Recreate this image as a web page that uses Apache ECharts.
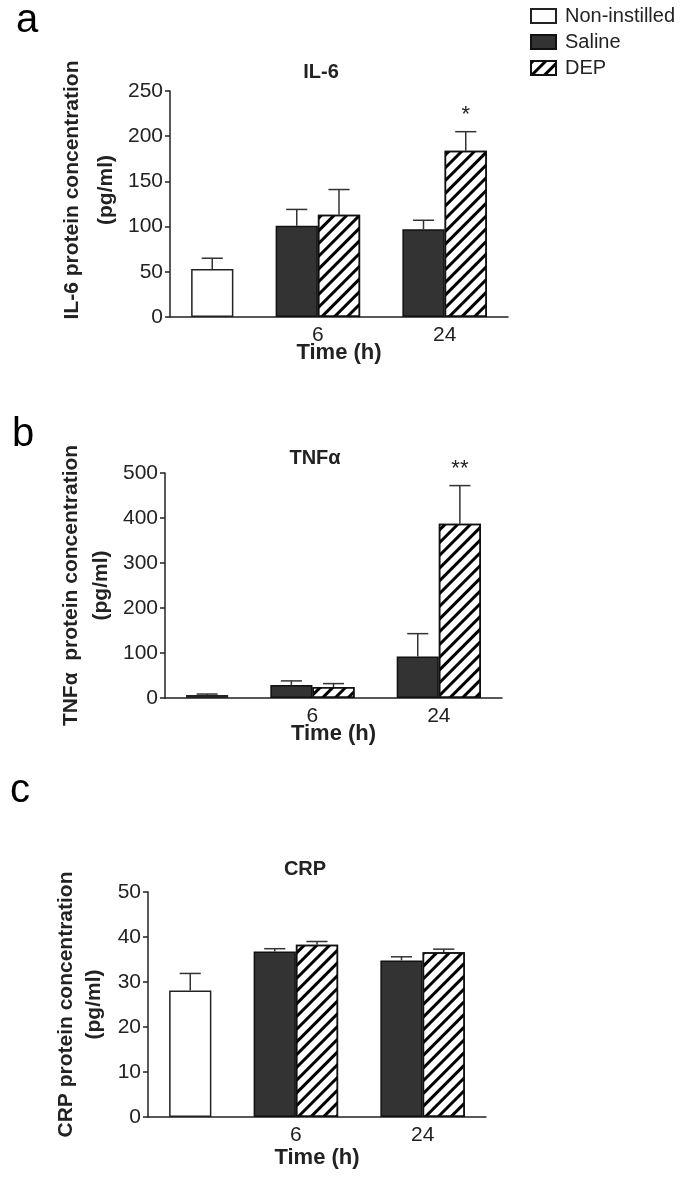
<!DOCTYPE html>
<html>
<head>
<meta charset="utf-8">
<script src="https://cdn.jsdelivr.net/npm/echarts@6/dist/echarts.min.js"></script>
<style>
  html, body { margin: 0; padding: 0; background: #fff; }
  #chart { width: 685px; height: 1178px; }
</style>
</head>
<body>
<div id="chart"></div>
<script>
// values (mean and SEM)
const timeLabels = ['6', '24']
const seriesNames = ['Non-instilled', 'Saline', 'DEP']

const il6NonInstilled = [53]
const il6NonInstilledErr = [12]
const il6Saline = [101, 97]
const il6SalineErr = [18, 10]
const il6Dep = [113, 184]
const il6DepErr = [28, 21]
const il6Sig = ['', '*']

const tnfNonInstilled = [6.5]
const tnfNonInstilledErr = [2.3]
const tnfSaline = [29, 92]
const tnfSalineErr = [9, 51]
const tnfDep = [24.5, 387]
const tnfDepErr = [7.5, 85]
const tnfSig = ['', '**']

const crpNonInstilled = [28.1]
const crpNonInstilledErr = [3.8]
const crpSaline = [36.8, 34.8]
const crpSalineErr = [0.6, 0.8]
const crpDep = [38.3, 36.6]
const crpDepErr = [0.7, 0.7]
const crpSig = ['', '']

const il6Ticks = { min: 0, max: 250, interval: 50 }
const tnfTicks = { min: 0, max: 500, interval: 100 }
const crpTicks = { min: 0, max: 50, interval: 10 }

const myChart = echarts.init(document.getElementById('chart'))

const FONT = "'Liberation Sans', Arial, sans-serif"
const INK = '#222'

// slot layout on the hidden value axis: non-instilled at 1, then pairs at 3/4, 6/7
const NI_X = 1
const groupX = (g) => 3 + 3 * g

const hatch = {
  symbol: 'rect',
  symbolSize: 1,
  dashArrayX: [1, 0],
  dashArrayY: [2.5, 5.2],
  rotation: -Math.PI / 4,
  color: '#000'
}

const panels = [
  {
    title: 'IL-6', yName: 'IL-6 protein concentration\n(pg/ml)', ticks: il6Ticks,
    ni: il6NonInstilled, niErr: il6NonInstilledErr, sal: il6Saline, salErr: il6SalineErr,
    dep: il6Dep, depErr: il6DepErr, sig: il6Sig,
    grid: { left: 170, top: 91, width: 338, height: 226 },
    titleX: 316, titleY: 57, nameGap: 47, lineH: 34, nameShift: 28, xNameGap: 25,
    letter: 'a', letterX: 16, letterY: 1
  },
  {
    title: 'TNF\u03b1', yName: 'TNF\u03b1  protein concentration\n(pg/ml)', ticks: tnfTicks,
    ni: tnfNonInstilled, niErr: tnfNonInstilledErr, sal: tnfSaline, salErr: tnfSalineErr,
    dep: tnfDep, depErr: tnfDepErr, sig: tnfSig,
    grid: { left: 165, top: 473, width: 337, height: 225 },
    titleX: 310, titleY: 443, nameGap: 49, lineH: 30, nameShift: 0, xNameGap: 25,
    letter: 'b', letterX: 12, letterY: 415
  },
  {
    title: 'CRP', yName: 'CRP protein concentration\n(pg/ml)', ticks: crpTicks,
    ni: crpNonInstilled, niErr: crpNonInstilledErr, sal: crpSaline, salErr: crpSalineErr,
    dep: crpDep, depErr: crpDepErr, sig: crpSig,
    grid: { left: 148, top: 892, width: 338, height: 225 },
    titleX: 300, titleY: 854, nameGap: 40, lineH: 28, nameShift: 0, xNameGap: 30,
    letter: 'c', letterX: 10, letterY: 771
  }
]

const grids = []
const xAxes = []
const yAxes = []
const series = []
const titles = []
const graphics = []

panels.forEach((p, i) => {
  const unitPx = p.grid.width / 8
  grids.push(p.grid)

  xAxes.push({
    gridIndex: i,
    type: 'value',
    min: 0,
    max: 8,
    interval: 0.5,
    splitLine: { show: false },
    axisTick: { show: false },
    axisLine: { show: true, lineStyle: { color: INK, width: 1.5 } },
    axisLabel: {
      margin: 8,
      fontFamily: FONT,
      fontSize: 21,
      color: INK,
      formatter: (v) => {
        const g = timeLabels.findIndex((_, k) => Math.abs(groupX(k) + 0.5 - v) < 1e-6)
        return g >= 0 ? timeLabels[g] : ''
      }
    },
    name: 'Time (h)',
    nameLocation: 'middle',
    nameGap: p.xNameGap,
    nameMoveOverlap: false,
    nameTextStyle: { fontFamily: FONT, fontWeight: 'bold', fontSize: 22, color: INK }
  })

  yAxes.push({
    gridIndex: i,
    type: 'value',
    min: p.ticks.min,
    max: p.ticks.max,
    interval: p.ticks.interval,
    splitLine: { show: false },
    axisLine: { show: true, lineStyle: { color: INK, width: 1.5 } },
    axisTick: { show: true, length: 5, lineStyle: { color: INK, width: 1.5 } },
    axisLabel: { margin: 7, fontFamily: FONT, fontSize: 21, color: INK },
    name: p.yName,
    nameLocation: 'middle',
    nameRotate: 90,
    nameGap: p.nameGap,
    nameMoveOverlap: false,
    nameTextStyle: {
      fontFamily: FONT, fontWeight: 'bold', fontSize: 21, color: INK,
      lineHeight: p.lineH, align: 'center', padding: [0, 0, 0, p.nameShift]
    }
  })

  const barBase = {
    type: 'bar',
    xAxisIndex: i,
    yAxisIndex: i,
    barWidth: unitPx,
    barGap: '-100%'
  }

  series.push(Object.assign({}, barBase, {
    name: seriesNames[0],
    data: p.ni.map((v) => [NI_X, v]),
    itemStyle: { color: '#fff', borderColor: INK, borderWidth: 1.5 }
  }))
  series.push(Object.assign({}, barBase, {
    name: seriesNames[1],
    data: p.sal.map((v, g) => [groupX(g), v]),
    itemStyle: { color: '#333', borderColor: '#111', borderWidth: 1.5 }
  }))
  series.push(Object.assign({}, barBase, {
    name: seriesNames[2],
    data: p.dep.map((v, g) => [groupX(g) + 1, v]),
    itemStyle: { color: '#fff', borderColor: '#111', borderWidth: 1.5, decal: hatch }
  }))

  // error bars (upper half only) plus significance marks
  const errData = []
  const sigText = []
  p.ni.forEach((v, k) => { errData.push([NI_X, v, p.niErr[k]]); sigText.push('') })
  p.sal.forEach((v, g) => { errData.push([groupX(g), v, p.salErr[g]]); sigText.push('') })
  p.dep.forEach((v, g) => { errData.push([groupX(g) + 1, v, p.depErr[g]]); sigText.push(p.sig[g]) })

  series.push({
    type: 'custom',
    xAxisIndex: i,
    yAxisIndex: i,
    z: 5,
    silent: true,
    data: errData,
    encode: { x: 0, y: 1 },
    renderItem: (params, api) => {
      const x = api.value(0)
      const m = api.value(1)
      const e = api.value(2)
      const base = api.coord([x, m])
      const top = api.coord([x, m + e])
      const half = api.size([0.25, 0])[0]
      const style = { stroke: '#333', lineWidth: 1.5 }
      const children = [
        { type: 'line', shape: { x1: base[0], y1: base[1], x2: top[0], y2: top[1] }, style },
        { type: 'line', shape: { x1: top[0] - half, y1: top[1], x2: top[0] + half, y2: top[1] }, style }
      ]
      const s = sigText[params.dataIndex]
      if (s) {
        children.push({
          type: 'text',
          style: {
            text: s, x: top[0], y: top[1] - 6, align: 'center', verticalAlign: 'bottom',
            font: '22px ' + FONT, fill: INK
          }
        })
      }
      return { type: 'group', children }
    }
  })

  titles.push({
    text: p.title,
    left: p.titleX,
    top: p.titleY,
    textAlign: 'center',
    textStyle: { fontFamily: FONT, fontWeight: 'bold', fontSize: 20, color: INK }
  })

  graphics.push({
    type: 'text',
    left: p.letterX,
    top: p.letterY,
    style: { text: p.letter, font: '40px ' + FONT, fill: '#000' }
  })
})

const option = {
  backgroundColor: '#fff',
  animation: false,
  title: titles,
  legend: {
    data: seriesNames,
    orient: 'vertical',
    left: 525,
    top: 1,
    icon: 'rect',
    itemWidth: 25,
    itemHeight: 14,
    itemGap: 6,
    textStyle: { fontFamily: FONT, fontSize: 20, color: INK, padding: [0, 0, 0, 4] }
  },
  grid: grids,
  xAxis: xAxes,
  yAxis: yAxes,
  series: series,
  graphic: graphics
}

myChart.setOption(option)
</script>
</body>
</html>
